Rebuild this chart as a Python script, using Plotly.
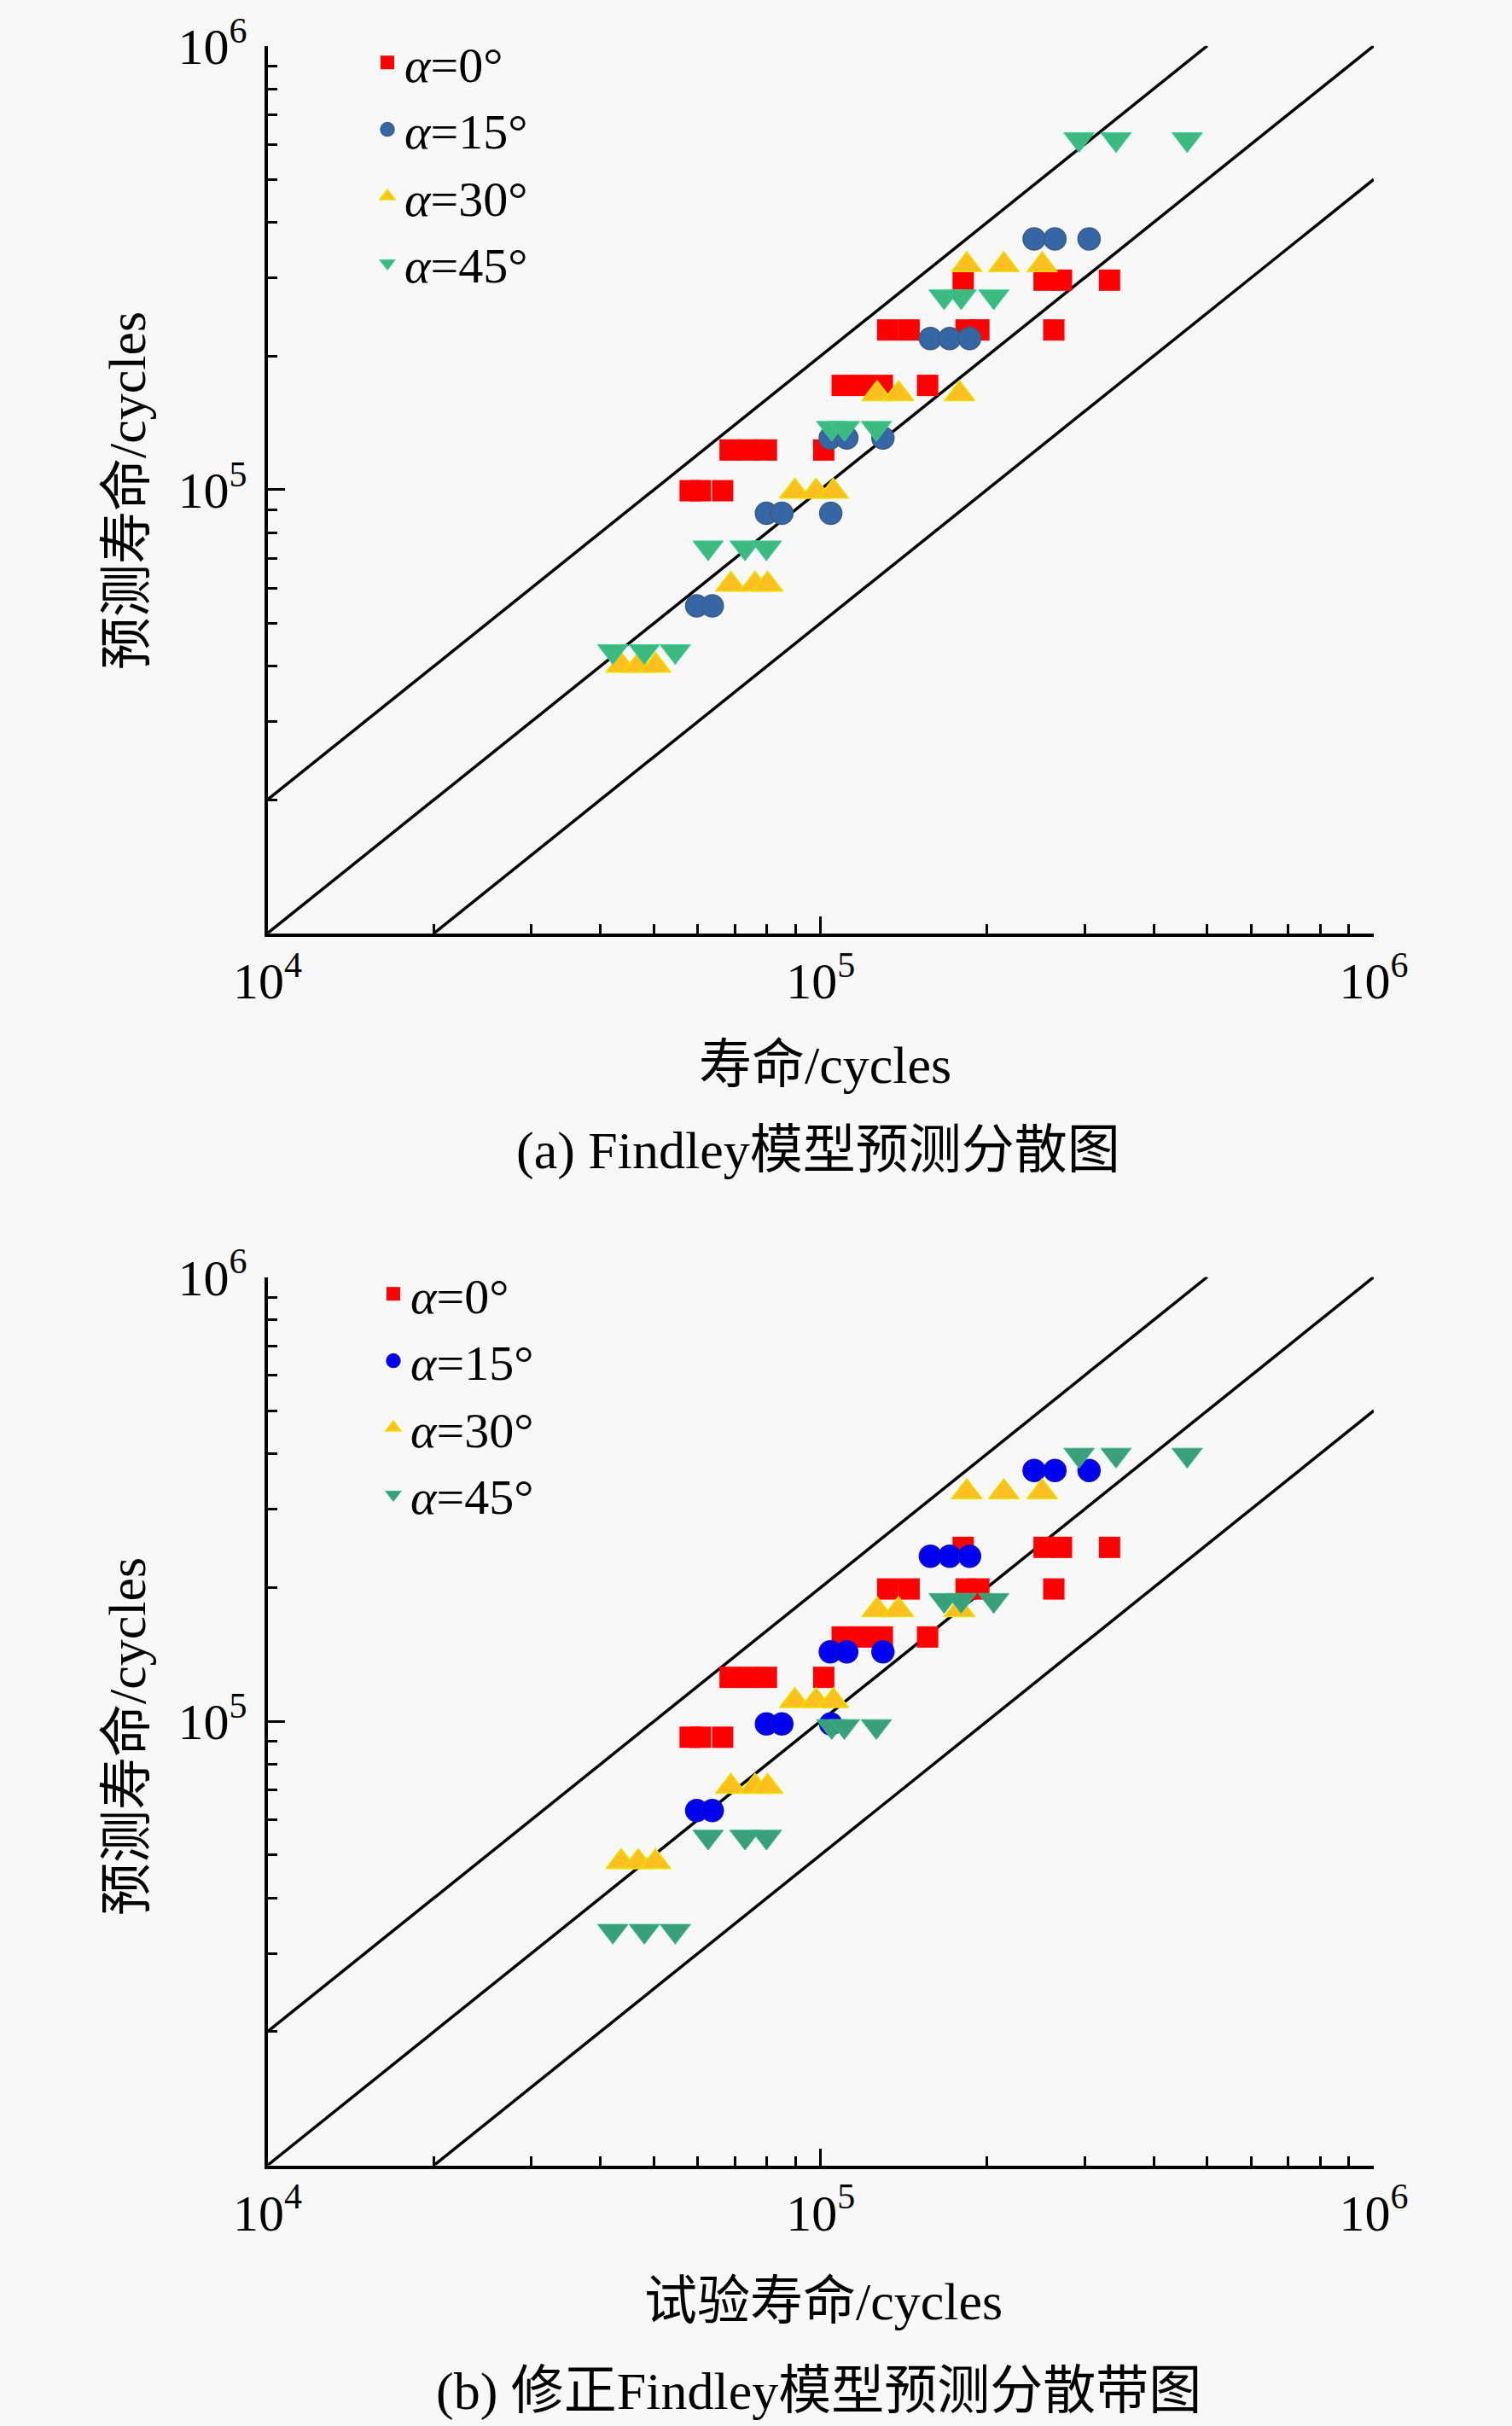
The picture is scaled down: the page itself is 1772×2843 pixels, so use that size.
import plotly.graph_objects as go

# ---------------- data ----------------
angles = ["0", "15", "30", "45"]

# experimental lives (x), shared by both panels
exp_a0 = [5.81e4, 6.06e4, 6.65e4,
          6.86e4, 7.40e4, 7.98e4, 1.013e5,
          1.094e5, 1.189e5, 1.293e5, 1.561e5,
          1.322e5, 1.445e5, 1.832e5, 1.932e5, 2.640e5,
          1.810e5, 2.535e5, 2.725e5, 3.329e5]
exp_a15 = [5.97e4, 6.37e4,
           7.98e4, 8.51e4, 1.043e5,
           1.041e5, 1.115e5, 1.296e5,
           1.579e5, 1.711e5, 1.859e5,
           2.432e5, 2.652e5, 3.057e5]
exp_a30 = [4.36e4, 4.68e4, 5.03e4,
           6.88e4, 7.61e4, 8.02e4,
           8.98e4, 9.81e4, 1.054e5,
           1.265e5, 1.383e5, 1.783e5,
           1.837e5, 2.144e5, 2.515e5]
exp_a45 = [4.21e4, 4.80e4, 5.46e4,
           6.26e4, 7.30e4, 7.98e4,
           1.047e5, 1.104e5, 1.261e5,
           1.672e5, 1.795e5, 2.056e5,
           2.932e5, 3.420e5, 4.599e5]

# (a) Findley predicted lives
findley_a0 = [9.94e4, 9.94e4, 9.94e4,
              1.228e5, 1.228e5, 1.228e5, 1.228e5,
              1.717e5, 1.717e5, 1.717e5, 1.717e5,
              2.289e5, 2.289e5, 2.289e5, 2.289e5, 2.289e5,
              2.964e5, 2.964e5, 2.964e5, 2.964e5]
findley_a15 = [5.47e4, 5.47e4,
               8.84e4, 8.84e4, 8.84e4,
               1.307e5, 1.307e5, 1.307e5,
               2.190e5, 2.190e5, 2.190e5,
               3.672e5, 3.672e5, 3.672e5]
findley_a30 = [4.01e4, 4.01e4, 4.01e4,
               6.11e4, 6.11e4, 6.11e4,
               9.90e4, 9.90e4, 9.90e4,
               1.642e5, 1.642e5, 1.642e5,
               3.206e5, 3.206e5, 3.206e5]
findley_a45 = [4.32e4, 4.32e4, 4.32e4,
               7.40e4, 7.40e4, 7.40e4,
               1.376e5, 1.376e5, 1.376e5,
               2.723e5, 2.723e5, 2.723e5,
               6.155e5, 6.155e5, 6.155e5]

# (b) modified Findley predicted lives
modified_a0 = [9.20e4, 9.20e4, 9.20e4,
               1.255e5, 1.255e5, 1.255e5, 1.255e5,
               1.547e5, 1.547e5, 1.547e5, 1.547e5,
               1.984e5, 1.984e5, 1.984e5, 1.984e5, 1.984e5,
               2.462e5, 2.462e5, 2.462e5, 2.462e5]
modified_a15 = [6.29e4, 6.29e4,
                9.86e4, 9.86e4, 9.86e4,
                1.432e5, 1.432e5, 1.432e5,
                2.351e5, 2.351e5, 2.351e5,
                3.667e5, 3.667e5, 3.667e5]
modified_a30 = [4.82e4, 4.82e4, 4.82e4,
                7.12e4, 7.12e4, 7.12e4,
                1.111e5, 1.111e5, 1.111e5,
                1.779e5, 1.779e5, 1.779e5,
                3.280e5, 3.280e5, 3.280e5]
modified_a45 = [3.37e4, 3.37e4, 3.37e4,
                5.49e4, 5.49e4, 5.49e4,
                9.74e4, 9.74e4, 9.74e4,
                1.873e5, 1.873e5, 1.873e5,
                3.977e5, 3.977e5, 3.977e5]

# scatter-band lines (factor 2)
band_upper_x = [1e4, 5e5]
band_upper_y = [2e4, 1e6]
band_mid_x = [1e4, 1e6]
band_mid_y = [1e4, 1e6]
band_lower_x = [2e4, 1e6]
band_lower_y = [1e4, 5e5]

x_tickvals = [1e4, 1e5, 1e6]
x_ticktext = ["10<sup>4</sup>", "10<sup>5</sup>", "10<sup>6</sup>"]
y_tickvals = [1e5, 1e6]
y_ticktext = ["10<sup>5</sup>", "10<sup>6</sup>"]
minor_vals = [2e4, 3e4, 4e4, 5e4, 6e4, 7e4, 8e4, 9e4,
              2e5, 3e5, 4e5, 5e5, 6e5, 7e5, 8e5, 9e5]

title_a = "(a) Findley模型预测分散图"
title_b = "(b) 修正Findley模型预测分散带图"
xlabel_a = "寿命/cycles"
xlabel_b = "试验寿命/cycles"
ylabel = "预测寿命/cycles"

# ---------------- styling ----------------
W, H = 1772, 2843
BG = "#f8f8f8"
FONT = "Liberation Serif, Times New Roman, Noto Sans CJK SC, serif"

x_left, x_right = 313.5, 1610.0
top_ax = (53.7, 1093.7)
bot_ax = (1496.5, 2537.5)

styles_a = [
    dict(symbol="square", size=25, color="#ff0000", line=dict(color="#ff0000", width=0)),
    dict(symbol="circle", size=26, color="#3566a5", line=dict(color="#3f5c80", width=1.5)),
    dict(symbol="triangle-up", size=31, color="#ffbf1f", line=dict(color="#e6e200", width=1.5)),
    dict(symbol="triangle-down", size=31, color="#3dba80", line=dict(color="#3ccf9a", width=1)),
]
styles_b = [
    dict(symbol="square", size=25, color="#ff0000", line=dict(color="#ff0000", width=0)),
    dict(symbol="circle", size=26, color="#0000f0", line=dict(color="#1010c0", width=1.5)),
    dict(symbol="triangle-up", size=31, color="#ffbf1f", line=dict(color="#e6e200", width=1.5)),
    dict(symbol="triangle-down", size=31, color="#3aa07c", line=dict(color="#35b98f", width=1)),
]

fig = go.Figure()

panels = [
    ("x", "y", "legend", [exp_a0, exp_a15, exp_a30, exp_a45],
     [findley_a0, findley_a15, findley_a30, findley_a45], styles_a),
    ("x2", "y2", "legend2", [exp_a0, exp_a15, exp_a30, exp_a45],
     [modified_a0, modified_a15, modified_a30, modified_a45], styles_b),
]

for xa, ya, leg, xs, ys, sts in panels:
    for lx, ly in [(band_upper_x, band_upper_y), (band_mid_x, band_mid_y),
                   (band_lower_x, band_lower_y)]:
        fig.add_trace(go.Scatter(x=lx, y=ly, mode="lines", xaxis=xa, yaxis=ya,
                                 line=dict(color="black", width=3.5),
                                 showlegend=False, hoverinfo="skip"))
    for ang, xv, yv, st in zip(angles, xs, ys, sts):
        fig.add_trace(go.Scatter(
            x=xv, y=yv, mode="markers", xaxis=xa, yaxis=ya, legend=leg,
            name="<i>α</i>=" + ang + "°",
            marker=dict(symbol=st["symbol"], size=st["size"], color=st["color"],
                        line=st["line"]),
        ))


def xaxis_cfg():
    return dict(
        type="log", range=[4, 6], domain=[x_left / W, x_right / W],
        showline=True, linecolor="black", linewidth=4, mirror=False,
        showgrid=False, zeroline=False, automargin=False,
        ticks="inside", ticklen=20, tickwidth=3, tickcolor="black",
        tickmode="array", tickvals=x_tickvals, ticktext=x_ticktext,
        tickfont=dict(family=FONT, size=60, color="black"),
        ticklabelstandoff=0,
        minor=dict(tickmode="array", tickvals=minor_vals, ticks="inside",
                   ticklen=11, tickwidth=3, tickcolor="black", showgrid=False),
    )


def yaxis_cfg(ax_px):
    top, bottom = ax_px
    return dict(
        type="log", range=[4, 6], domain=[1 - bottom / H, 1 - top / H],
        showline=True, linecolor="black", linewidth=4, mirror=False,
        showgrid=False, zeroline=False, automargin=False,
        ticks="inside", ticklen=20, tickwidth=3, tickcolor="black",
        tickmode="array", tickvals=y_tickvals, ticktext=y_ticktext,
        tickfont=dict(family=FONT, size=60, color="black"),
        ticklabelstandoff=8,
        minor=dict(tickmode="array", tickvals=minor_vals, ticks="inside",
                   ticklen=11, tickwidth=3, tickcolor="black", showgrid=False),
    )


xa1 = xaxis_cfg()
xa1["anchor"] = "y"
xa2 = xaxis_cfg()
xa2["anchor"] = "y2"
ya1 = yaxis_cfg(top_ax)
ya1["anchor"] = "x"
ya2 = yaxis_cfg(bot_ax)
ya2["anchor"] = "x2"

legend_common = dict(
    font=dict(family=FONT, size=58, color="black"),
    bgcolor="rgba(0,0,0,0)", borderwidth=0,
    xanchor="left", yanchor="top", tracegroupgap=0,
)

fig.update_layout(
    width=W, height=H,
    margin=dict(l=0, r=0, t=0, b=0, pad=0, autoexpand=False),
    paper_bgcolor=BG, plot_bgcolor=BG,
    xaxis=xa1, yaxis=ya1, xaxis2=xa2, yaxis2=ya2,
    legend=dict(x=434 / W, y=1 - 29 / H, **legend_common),
    legend2=dict(x=441 / W, y=1 - 1472 / H, **legend_common),
    showlegend=True,
)

ann_font = dict(family=FONT, size=62, color="black")
annotations = [
    dict(text=xlabel_a, x=967 / W, y=1 - 1248 / H),
    dict(text=title_a, x=959 / W, y=1 - 1348 / H),
    dict(text=xlabel_b, x=965 / W, y=1 - 2697 / H),
    dict(text=title_b, x=959 / W, y=1 - 2802 / H),
    dict(text=ylabel, x=149 / W, y=1 - 575 / H, textangle=-90),
    dict(text=ylabel, x=149 / W, y=1 - 2035 / H, textangle=-90),
]
for a in annotations:
    fig.add_annotation(xref="paper", yref="paper", showarrow=False,
                       xanchor="center", yanchor="middle", font=ann_font, **a)

page_css = ("document.body.style.margin='0';"
            "document.body.style.background='" + BG + "';")
fig.write_html("out.html", config={"responsive": False, "displayModeBar": False},
               post_script=page_css)
